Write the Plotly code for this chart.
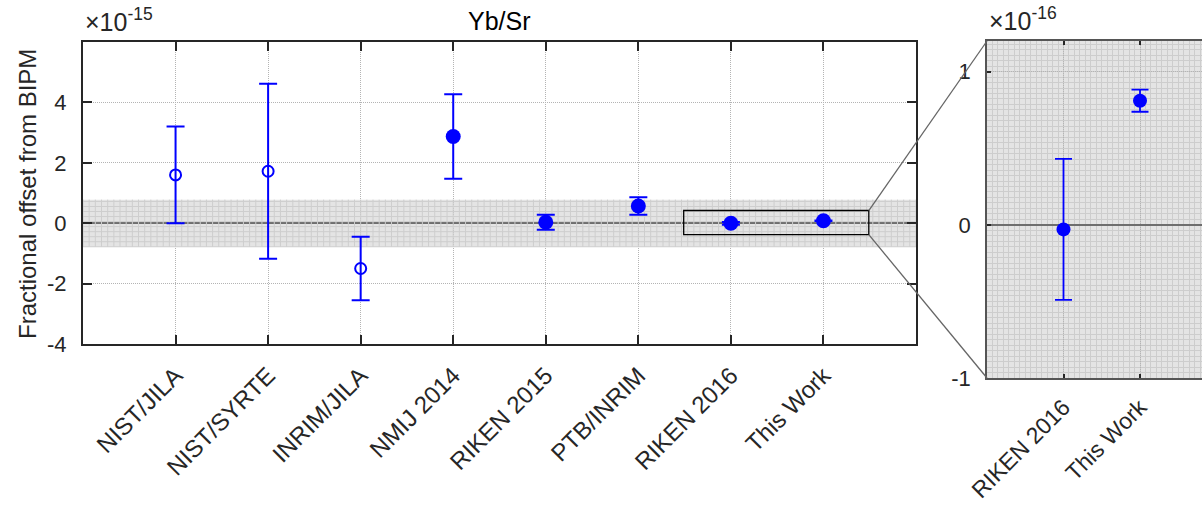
import numpy as np
import plotly.graph_objects as go

W, H = 1202, 508

# ---------------- data ----------------
labels = ["NIST/JILA", "NIST/SYRTE", "INRIM/JILA", "NMIJ 2014",
          "RIKEN 2015", "PTB/INRIM", "RIKEN 2016", "This Work"]
offsets = [1.60, 1.72, -1.50, 2.87, 0.03, 0.57, -0.003, 0.081]      # x 1e-15
errors = [1.60, 2.90, 1.05, 1.40, 0.25, 0.29, 0.046, 0.0072]        # x 1e-15
filled = [False, False, False, True, True, True, True, True]

zoom_labels = ["RIKEN 2016", "This Work"]
zoom_offsets = [-0.03, 0.81]      # x 1e-16
zoom_errors = [0.46, 0.072]       # x 1e-16

main_yticks = [-4, -2, 0, 2, 4]
main_yticktext = ["-4", "-2", "0", "2", "4"]
zoom_yticks = [-1, 0, 1]
zoom_yticktext = ["-1", "0", "1"]
band_half = 0.78                  # BIPM uncertainty band, x 1e-15

# ---------------- layout geometry ----------------
def px_x(p): return p / W
def px_y(p): return 1 - p / H

main_dom_x = [px_x(83), px_x(916)]
main_dom_y = [px_y(344), px_y(42)]
zoom_dom_x = [px_x(987), 1.0]
zoom_dom_y = [px_y(378), px_y(41)]
main_xr = [0, 9]
main_yr = [-4, 6]
zoom_xr = [6, 6 + 215 / 76.5]
zoom_yr = [-1, 1.2]

def to_paper(x, y, domx, domy, xr, yr):
    px = domx[0] + (x - xr[0]) / (xr[1] - xr[0]) * (domx[1] - domx[0])
    py = domy[0] + (y - yr[0]) / (yr[1] - yr[0]) * (domy[1] - domy[0])
    return px, py

FONT = "Liberation Sans, Arial, Helvetica, sans-serif"
TXT = "#262626"
BLUE = "#0000ff"

fig = go.Figure()

# fine grid inside the band (main panel)
gx, gy = [], []
for xv in np.arange(main_xr[0], main_xr[1] + 1e-9, 1 / 15):
    gx += [xv, xv, None]
    gy += [-band_half, band_half, None]
for yv in np.arange(-band_half, band_half + 1e-9, 1 / 6):
    gx += [main_xr[0], main_xr[1], None]
    gy += [yv, yv, None]
fig.add_trace(go.Scatter(x=gx, y=gy, mode="lines",
                         line=dict(color="#cecece", width=1),
                         hoverinfo="skip", showlegend=False,
                         xaxis="x", yaxis="y"))

xs = list(range(1, len(labels) + 1))
open_idx = [i for i, f in enumerate(filled) if not f]
fill_idx = [i for i, f in enumerate(filled) if f]

fig.add_trace(go.Scatter(
    x=[xs[i] for i in open_idx], y=[offsets[i] for i in open_idx],
    mode="markers",
    marker=dict(symbol="circle-open", size=11, color=BLUE, line=dict(width=2, color=BLUE)),
    error_y=dict(type="data", array=[errors[i] for i in open_idx],
                 color=BLUE, thickness=2, width=9),
    showlegend=False, xaxis="x", yaxis="y"))
fig.add_trace(go.Scatter(
    x=[xs[i] for i in fill_idx], y=[offsets[i] for i in fill_idx],
    mode="markers",
    marker=dict(symbol="circle", size=15, color=BLUE),
    error_y=dict(type="data", array=[errors[i] for i in fill_idx],
                 color=BLUE, thickness=2, width=9),
    showlegend=False, xaxis="x", yaxis="y"))

# zoom panel
fig.add_trace(go.Scatter(
    x=[7, 8], y=zoom_offsets, mode="markers",
    marker=dict(symbol="circle", size=14, color=BLUE),
    error_y=dict(type="data", array=zoom_errors, color=BLUE, thickness=1.8, width=8.5),
    showlegend=False, xaxis="x2", yaxis="y2"))

axis_common = dict(showline=True, linecolor=TXT, linewidth=2, automargin=False,
                   ticks="inside", tickcolor=TXT, tickwidth=1.8,
                   tickfont=dict(family=FONT, size=22, color=TXT),
                   showgrid=True, gridcolor="#b4b4b4", griddash="1px,1px", gridwidth=1)
xfont = dict(family=FONT, size=24, color=TXT)
xfont2 = dict(family=FONT, size=23, color=TXT)

minor_x = dict(dtick=1 / 14, tick0=6, showgrid=True, gridcolor="#cdcdcd",
               gridwidth=1, griddash="solid", ticks="")
minor_y = dict(dtick=1 / 28, tick0=0, showgrid=True, gridcolor="#cdcdcd",
               gridwidth=1, griddash="solid", ticks="")

fig.update_layout(
    width=W, height=H,
    margin=dict(l=0, r=0, t=0, b=0, autoexpand=False),
    paper_bgcolor="white", plot_bgcolor="rgba(0,0,0,0)",
    xaxis=dict(domain=main_dom_x, range=main_xr, tickvals=xs, ticktext=labels,
               tickangle=-45, ticklen=9, mirror="ticks", zeroline=False,
               anchor="y", ticklabelstandoff=6,
               **{**axis_common, "tickfont": xfont}),
    yaxis=dict(domain=main_dom_y, range=main_yr, tickvals=main_yticks,
               ticktext=main_yticktext,
               ticklen=9, mirror="ticks", zeroline=True, zerolinecolor="#6e6e6e",
               zerolinewidth=1.8, anchor="x", ticklabelstandoff=10, **axis_common),
    xaxis2=dict(domain=zoom_dom_x, range=zoom_xr, tickvals=[7, 8], ticktext=zoom_labels,
                tickangle=-45, ticklen=4, mirror="ticks", zeroline=False, anchor="y2",
                ticklabelstandoff=5, minor=minor_x,
                **{**axis_common, "linecolor": "#555555", "linewidth": 1.5,
                   "tickfont": xfont2}),
    yaxis2=dict(domain=zoom_dom_y, range=zoom_yr, tickvals=zoom_yticks,
                ticktext=zoom_yticktext,
                ticklen=4, mirror=False, zeroline=True, zerolinecolor="#6e6e6e",
                zerolinewidth=1.8, anchor="x2", ticklabelstandoff=10, minor=minor_y,
                **{**axis_common, "linecolor": "#555555", "linewidth": 1.5}),
)

# backgrounds
fig.add_shape(type="rect", xref="x", yref="y", x0=main_xr[0], x1=main_xr[1],
              y0=-band_half, y1=band_half, fillcolor="#e4e4e4",
              line=dict(width=0), layer="below")
fig.add_shape(type="rect", xref="x2 domain", yref="y2 domain", x0=0, x1=1, y0=0, y1=1,
              fillcolor="#e4e4e4", line=dict(width=0), layer="below")

# zoom box in main panel
box_x = [6.49, 8.49]
box_y = [-0.38, 0.42]
fig.add_shape(type="rect", xref="x", yref="y", x0=box_x[0], x1=box_x[1],
              y0=box_y[0], y1=box_y[1], line=dict(color="black", width=1.3),
              fillcolor="rgba(0,0,0,0)", layer="above")

# connector lines
p_top = to_paper(box_x[1], box_y[1], main_dom_x, main_dom_y, main_xr, main_yr)
p_bot = to_paper(box_x[1], box_y[0], main_dom_x, main_dom_y, main_xr, main_yr)
fig.add_shape(type="line", xref="paper", yref="paper", x0=p_top[0], y0=p_top[1],
              x1=zoom_dom_x[0], y1=zoom_dom_y[1], line=dict(color="#666666", width=1.3),
              layer="above")
fig.add_shape(type="line", xref="paper", yref="paper", x0=p_bot[0], y0=p_bot[1],
              x1=zoom_dom_x[0], y1=zoom_dom_y[0], line=dict(color="#666666", width=1.3),
              layer="above")

# text
fig.add_annotation(text="Yb/Sr", xref="paper", yref="paper",
                   x=(main_dom_x[0] + main_dom_x[1]) / 2, y=px_y(21),
                   xanchor="center", yanchor="middle", showarrow=False,
                   font=dict(family=FONT, size=25, color="black"))
fig.add_annotation(text="×10<sup>-15</sup>", xref="paper", yref="paper",
                   x=px_x(83), y=px_y(38), xanchor="left", yanchor="bottom",
                   showarrow=False, font=dict(family=FONT, size=25, color=TXT))
fig.add_annotation(text="×10<sup>-16</sup>", xref="paper", yref="paper",
                   x=px_x(987), y=px_y(37), xanchor="left", yanchor="bottom",
                   showarrow=False, font=dict(family=FONT, size=25, color=TXT))
fig.add_annotation(text="Fractional offset from BIPM", xref="paper", yref="paper",
                   x=px_x(27), y=px_y(194), textangle=-90,
                   xanchor="center", yanchor="middle", showarrow=False,
                   font=dict(family=FONT, size=24, color=TXT))

fig.write_html("out.html")
